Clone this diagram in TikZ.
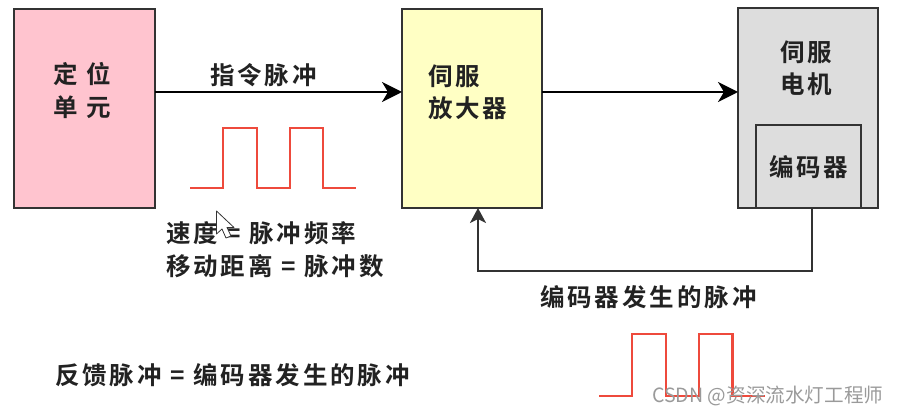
\documentclass[tikz,border=0pt]{standalone}
\usepackage{fontspec}
\usetikzlibrary{arrows.meta}
\newfontfamily\cjkb[LetterSpace=12]{Noto Sans CJK SC Bold}
\newfontfamily\cjkr{Noto Sans CJK SC}
\definecolor{edge}{HTML}{333333}
\definecolor{pinkfill}{HTML}{FFC4CF}
\definecolor{yellowfill}{HTML}{FFFFC4}
\definecolor{greyfill}{HTML}{DDDDDD}
\definecolor{pulsered}{HTML}{EE4A3C}
\definecolor{ink}{HTML}{222222}
\definecolor{markgrey}{HTML}{9A9A9A}
\tikzset{
  blockbox/.style={draw=edge,line width=2pt,outer sep=0pt,inner sep=0pt,anchor=north west},
  label/.style={font=\cjkb\fontsize{24.5}{27}\selectfont,text=ink,anchor=west,inner sep=0pt,outer sep=0pt},
  wire/.style={draw=black,line width=2pt,-{Stealth[length=20pt,width=20pt,inset=6pt]}},
  fbwire/.style={draw=edge,line width=2pt,-{Stealth[length=15pt,width=16pt,inset=4pt]}},
  pulse/.style={draw=pulsered,line width=2.2pt,line join=miter},
}
\begin{document}
\begin{tikzpicture}[x=1pt,y=-1pt]
\useasboundingbox (0,0) rectangle (898,414);
% blocks
\node[blockbox,fill=pinkfill,minimum width=141pt,minimum height=199pt] (unit) at (14,9) {};
\node[blockbox,fill=yellowfill,minimum width=140pt,minimum height=199pt] (amp) at (402,9) {};
\node[blockbox,fill=greyfill,minimum width=140pt,minimum height=200pt] (motor) at (738,8) {};
\node[blockbox,fill=greyfill,minimum width=105pt,minimum height=83pt] (enc) at (756,125) {};
% block texts
\node[label] (t1) at (53,74) {定\hspace{9pt}位};
\node[label] (t2) at (53,107) {单\hspace{9pt}元};
\node[label] (t3) at (428,76) {伺服};
\node[label] (t4) at (428,108) {放大器};
\node[label] (t5) at (780,52) {伺服};
\node[label] (t6) at (780,84) {电机};
\node[label] (t7) at (769,167) {编码器};
% connectors
\coordinate (ly) at (0,92);
\coordinate (fbstart) at (812,208);
\coordinate (fbcorner1) at (812,271);
\coordinate (fbcorner2) at (478,271);
\coordinate (fbend) at (478,208);
\draw[wire] (unit.east |- ly) -- (amp.west |- ly);
\draw[wire] (amp.east |- ly) -- (motor.west |- ly);
\draw[fbwire] (fbstart) -- (fbcorner1) -- (fbcorner2) -- (fbend);
% labels
\node[label] (cmd) at (210,75) {指令脉冲};
\node[label] (speed) at (166,233) {速度 = 脉冲频率};
\node[label] (dist) at (166,266) {移动距离 = 脉冲数};
\node[label] (encp) at (540,297) {编码器发生的脉冲};
\node[label] (fb) at (55,375) {反馈脉冲 = 编码器发生的脉冲};
% pulses
\draw[pulse] (190,188) -- (223,188) -- (223,128) -- (257,128) -- (257,188) -- (290,188) -- (290,128) -- (323,128) -- (323,188) -- (356,188);
\draw[pulse] (599,396) -- (632,396) -- (632,334) -- (666,334) -- (666,396) -- (699,396) -- (699,334) -- (732.5,334) -- (732.5,396) -- (765,396);
% cursor
\draw[draw=edge,fill=white,line width=.8pt,line join=round] (216.5,211) -- (216.5,234) -- (222,229) -- (226,238) -- (231,236) -- (227,227.5) -- (234,227.5) -- cycle;
% watermark
\node[font=\cjkr\fontsize{19.6}{22}\selectfont,text=markgrey,anchor=west,inner sep=0pt] (wm) at (652,395.5) {CSDN @资深流水灯工程师};
\end{tikzpicture}
\end{document}
